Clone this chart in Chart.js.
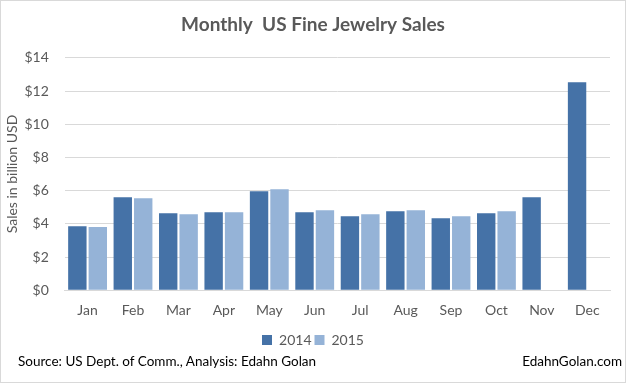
<!DOCTYPE html>
<html>
<head>
<meta charset="utf-8">
<script src="https://cdn.jsdelivr.net/npm/chart.js@4/dist/chart.umd.min.js"></script>
<style>
  html, body { margin:0; padding:0; background:#fff; }
  #wrap { position:relative; width:626px; height:383px; box-sizing:border-box; border:1px solid #d9d9d9; background:#fff; overflow:hidden; }
  #c { position:absolute; left:0; top:0; }
  .foot { position:absolute; top:352px; font-family:Lato, "Open Sans", sans-serif; font-size:13.5px; color:#000; white-space:nowrap; }
</style>
</head>
<body>
<div id="wrap">
  <canvas id="c" width="624" height="381"></canvas>
  <div class="foot" style="left:17px;">Source: US Dept. of Comm., Analysis: Edahn Golan</div>
  <div class="foot" style="right:3px;">EdahnGolan.com</div>
</div>
<script>
const months = ["Jan","Feb","Mar","Apr","May","Jun","Jul","Aug","Sep","Oct","Nov","Dec"];
const sales2014 = [3.85, 5.60, 4.64, 4.70, 5.96, 4.70, 4.46, 4.76, 4.34, 4.64, 5.60, 12.53];
const sales2015 = [3.80, 5.54, 4.58, 4.70, 6.08, 4.82, 4.58, 4.82, 4.46, 4.76, null, null];
const yTicks = [0, 2, 4, 6, 8, 10, 12, 14];

const font = "Lato, 'Open Sans', sans-serif";
new Chart(document.getElementById('c'), {
  type: 'bar',
  data: {
    labels: months,
    datasets: [
      { label: '2014', data: sales2014, backgroundColor: '#4572A7', categoryPercentage: 0.9, barPercentage: 0.9 },
      { label: '2015', data: sales2015, backgroundColor: '#95B3D7', categoryPercentage: 0.9, barPercentage: 0.9 }
    ]
  },
  options: {
    responsive: false,
    animation: false,
    layout: { padding: { left: 0, right: 0, top: 0, bottom: 25 } },
    plugins: {
      title: { display: true, text: 'Monthly  US Fine Jewelry Sales', color: '#595959',
        font: { family: font, size: 19, weight: 'bold' }, padding: { top: 12, bottom: 22 } },
      legend: { position: 'bottom', labels: { color: '#595959', font: { family: font, size: 14 },
        boxWidth: 10, boxHeight: 10, padding: 3 } },
      tooltip: { enabled: false }
    },
    scales: {
      x: {
        grid: { display: false, drawTicks: false },
        border: { color: '#d9d9d9', width: 1 },
        ticks: { color: '#595959', font: { family: font, size: 14 }, padding: 11.5 }
      },
      y: {
        min: 0, max: 14,
        afterBuildTicks: (axis) => { axis.ticks = yTicks.map(v => ({ value: v })); },
        grid: { color: '#d9d9d9', drawTicks: false },
        border: { display: false },
        ticks: { color: '#595959', font: { family: font, size: 14 }, padding: 16,
          callback: v => '$' + v },
        title: { display: true, text: 'Sales in billion USD', color: '#595959',
          font: { family: font, size: 14 }, padding: { top: 3, bottom: -12.3 } }
      },
      spacer: {
        type: 'linear', position: 'right', display: true,
        grid: { display: false, drawTicks: false },
        border: { display: false },
        ticks: { display: false },
        afterFit: (axis) => { axis.width = 15; }
      }
    }
  }
});
</script>
</body>
</html>
